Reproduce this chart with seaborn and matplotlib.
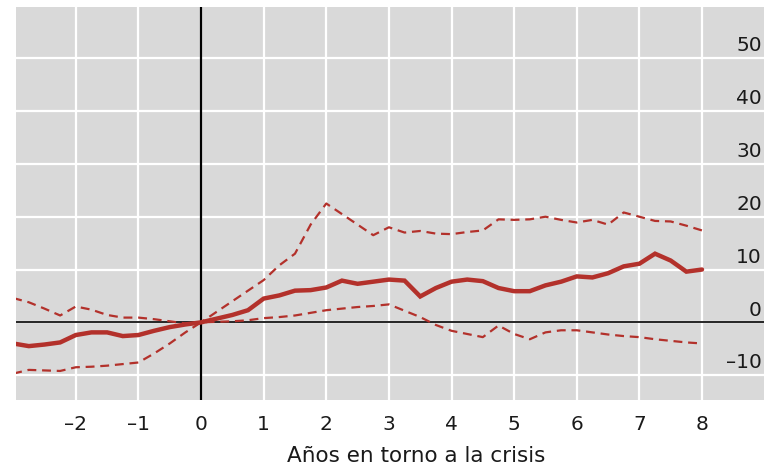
import matplotlib
matplotlib.use("Agg")
import matplotlib.pyplot as plt
import matplotlib.transforms as mtransforms
import numpy as np
import pandas as pd
import seaborn as sns

# Years around the crisis (quarterly)
years = [-3.0, -2.75, -2.5, -2.25, -2.0, -1.75, -1.5, -1.25, -1.0, -0.75, -0.5, -0.25,
         0.0, 0.25, 0.5, 0.75, 1.0, 1.25, 1.5, 1.75, 2.0, 2.25, 2.5, 2.75,
         3.0, 3.25, 3.5, 3.75, 4.0, 4.25, 4.5, 4.75, 5.0, 5.25, 5.5, 5.75,
         6.0, 6.25, 6.5, 6.75, 7.0, 7.25, 7.5, 7.75, 8.0]

# Central estimate
central = [-4.0, -4.5, -4.2, -3.8, -2.4, -1.9, -1.9, -2.6, -2.4, -1.6, -0.9, -0.4,
           0.0, 0.7, 1.4, 2.3, 4.5, 5.1, 6.0, 6.1, 6.6, 7.9, 7.3, 7.7,
           8.1, 7.9, 4.9, 6.5, 7.7, 8.1, 7.8, 6.5, 5.9, 5.9, 7.0, 7.7,
           8.7, 8.5, 9.3, 10.6, 11.1, 13.0, 11.7, 9.6, 10.0]

# Upper band
upper = [4.6, 3.8, 2.6, 1.3, 3.0, 2.4, 1.4, 0.9, 0.9, 0.6, 0.2, -0.2,
         0.0, 2.0, 4.0, 6.0, 8.0, 10.8, 13.0, 18.5, 22.5, 20.5, 18.5, 16.5,
         18.0, 17.0, 17.3, 16.8, 16.7, 17.1, 17.4, 19.5, 19.4, 19.5, 20.0, 19.4,
         18.9, 19.4, 18.5, 20.8, 20.0, 19.2, 19.1, 18.3, 17.4]

# Lower band
lower = [-9.7, -9.0, -9.1, -9.2, -8.5, -8.4, -8.2, -7.9, -7.6, -5.9, -4.0, -1.9,
         0.0, 0.1, 0.2, 0.4, 0.8, 1.0, 1.3, 1.8, 2.3, 2.6, 2.9, 3.1,
         3.4, 2.2, 1.0, -0.5, -1.6, -2.2, -2.8, -0.6, -2.2, -3.2, -1.9, -1.5,
         -1.5, -1.9, -2.3, -2.6, -2.8, -3.2, -3.5, -3.8, -4.0]

x_ticks = [-2, -1, 0, 1, 2, 3, 4, 5, 6, 7, 8]
y_ticks = [-10, 0, 10, 20, 30, 40, 50]
x_label = "Años en torno a la crisis"

def fmt(v):
    return f"–{abs(v)}" if v < 0 else f"{v}"

RED = "#b3312b"
BG = "#d9d9d9"
TXT = "#1a1a1a"
FS = 14.5

sns.set_theme(style="white")
plt.rcParams["font.family"] = ["DejaVu Sans"]

fig = plt.figure(figsize=(7.64, 4.65), dpi=100)
W, H = 764, 465
ax = fig.add_axes([16 / W, (H - 400) / H, (764 - 16) / W, (400 - 7) / H])
ax.set_facecolor(BG)

df = pd.DataFrame({"year": years, "central": central, "upper": upper, "lower": lower})

sns.lineplot(data=df, x="year", y="upper", ax=ax, color=RED, lw=1.6, zorder=4)
ax.lines[-1].set_dashes([4, 2.6])
sns.lineplot(data=df, x="year", y="lower", ax=ax, color=RED, lw=1.6, zorder=4)
ax.lines[-1].set_dashes([4, 2.6])
sns.lineplot(data=df, x="year", y="central", ax=ax, color=RED, lw=3.2, zorder=5,
             solid_joinstyle="miter")

ax.set_xlim(-2.955, 8.99)
ax.set_ylim(-14.7, 59.7)

# White grid
for v in x_ticks:
    ax.axvline(v, color="white", lw=1.6, zorder=1)
for v in y_ticks:
    ax.axhline(v, color="white", lw=1.6, zorder=1)

# Zero reference lines
ax.axvline(0, color="black", lw=1.6, zorder=3)
ax.axhline(0, color="black", lw=1.2, zorder=3)

for s in ax.spines.values():
    s.set_visible(False)

ax.set_xticks(x_ticks)
ax.set_xticklabels([fmt(v) for v in x_ticks])
ax.tick_params(axis="x", direction="in", length=12, width=1.4, color="black",
               pad=11, labelsize=FS, labelcolor=TXT, bottom=True)
ax.set_yticks([])
ax.set_xlabel(x_label, fontsize=15.5, color=TXT)
ax.xaxis.set_label_coords(0.535, -0.118)
ax.set_ylabel("")

# Value labels on the right, sitting above their grid lines
trans = mtransforms.blended_transform_factory(ax.transAxes, ax.transData)
off = mtransforms.offset_copy(trans, fig=fig, x=0, y=2, units="points")
for v in y_ticks:
    ax.text(0.997, v, fmt(v), transform=off, ha="right", va="bottom",
            fontsize=FS, color=TXT, zorder=6)

fig.savefig("out.png", dpi=100)
